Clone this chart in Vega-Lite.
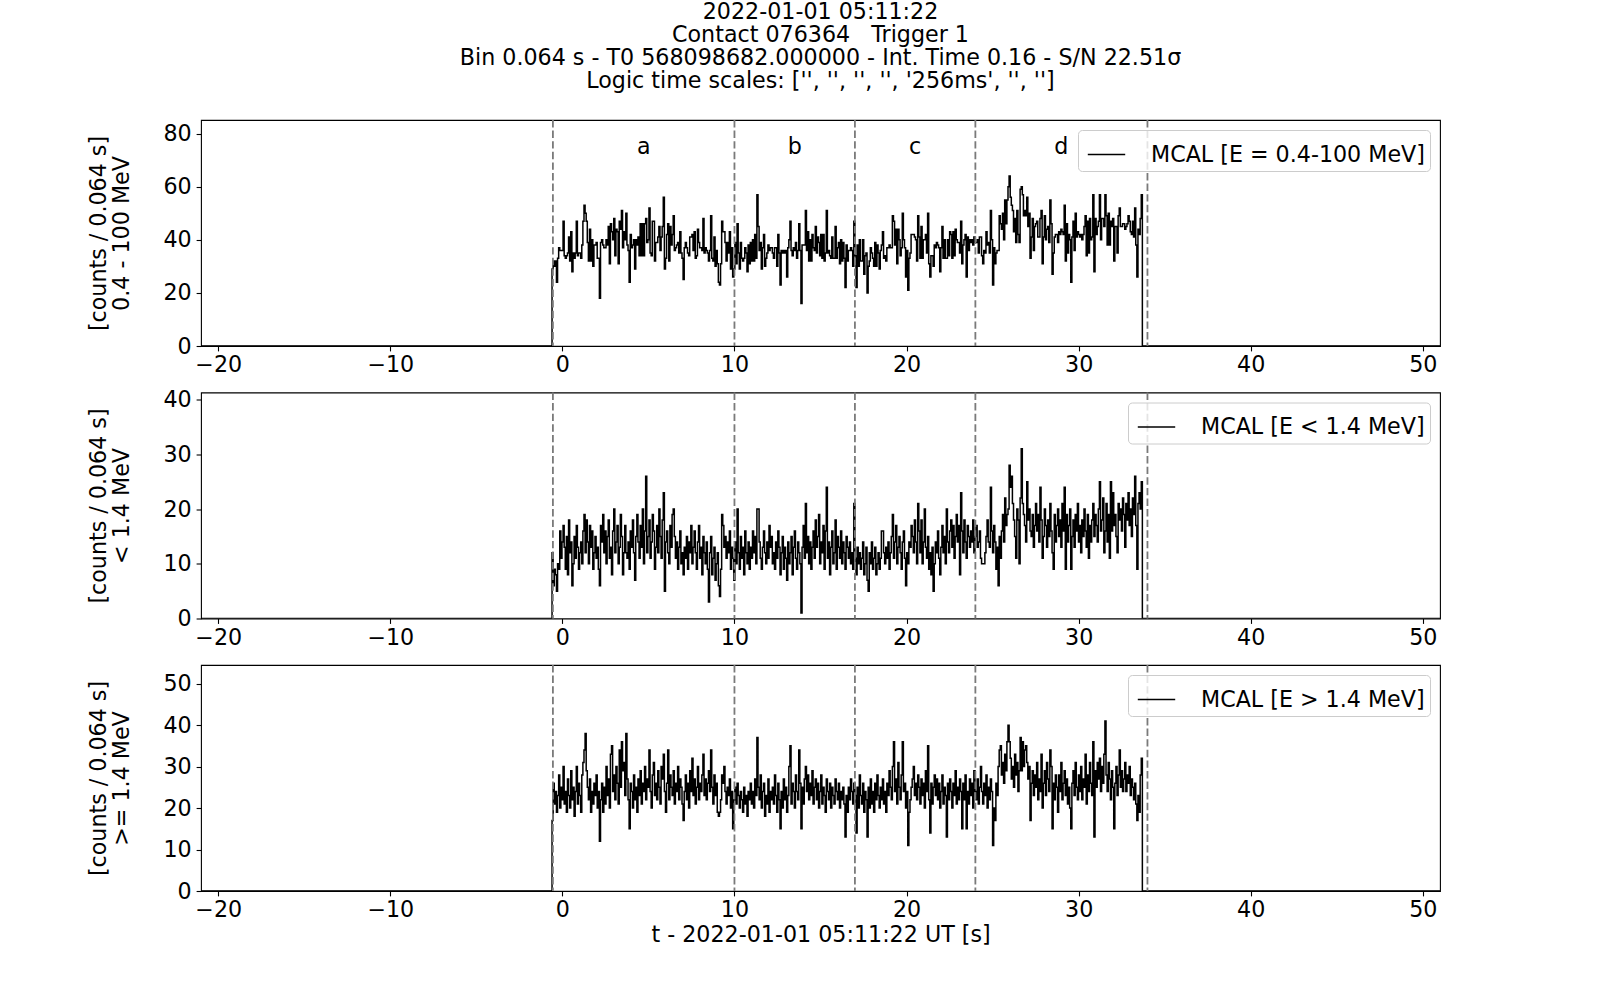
{
"$schema": "https://vega.github.io/schema/vega-lite/v6.json",
"background": "white",
"padding": {"left": 87, "top": 1, "right": 5, "bottom": 5},
"title": {"text": ["2022-01-01 05:11:22", "Contact 076364\u00a0\u00a0\u00a0Trigger 1", "Bin 0.064 s - T0 568098682.000000 - Int. Time 0.16 - S/N 22.51σ", "Logic time scales: ['', '', '', '', '256ms', '', '']"], "anchor": "middle", "frame": "group", "offset": 26},
"bounds": "flush",
"spacing": 46.5,
"datasets": {
"v": [{"x": -0.55}, {"x": 10}, {"x": 17}, {"x": 24}, {"x": 34}],
"lab": [{"x": 4.73, "y": 75, "s": "a"}, {"x": 13.5, "y": 75, "s": "b"}, {"x": 20.5, "y": 75, "s": "c"}, {"x": 29.0, "y": 75, "s": "d"}],
"d": [
{"t":-21,"lo":0,"hi":0,"all":0},
{"t":-0.6,"lo":12,"hi":17,"all":29},{"t":-0.536,"lo":6,"hi":26,"all":32},{"t":-0.472,"lo":9,"hi":21,"all":30},{"t":-0.408,"lo":8,"hi":24,"all":32},{"t":-0.344,"lo":5,"hi":19,"all":24},{"t":-0.28,"lo":10,"hi":23,"all":33},{"t":-0.216,"lo":9,"hi":28,"all":37},{"t":-0.152,"lo":16,"hi":20,"all":36},{"t":-0.088,"lo":11,"hi":25,"all":36},{"t":-0.024,"lo":14,"hi":22,"all":36},
{"t":0.04,"lo":17,"hi":30,"all":47},{"t":0.104,"lo":13,"hi":21,"all":34},{"t":0.168,"lo":9,"hi":24,"all":33},{"t":0.232,"lo":15,"hi":19,"all":34},{"t":0.296,"lo":8,"hi":27,"all":35},{"t":0.36,"lo":18,"hi":23,"all":41},{"t":0.424,"lo":12,"hi":20,"all":32},{"t":0.488,"lo":14,"hi":29,"all":43},{"t":0.552,"lo":6,"hi":22,"all":28},{"t":0.616,"lo":10,"hi":25,"all":35},
{"t":0.68,"lo":15,"hi":18,"all":33},{"t":0.744,"lo":11,"hi":24,"all":35},{"t":0.808,"lo":17,"hi":30,"all":47},{"t":0.872,"lo":13,"hi":21,"all":34},{"t":0.936,"lo":9,"hi":26,"all":35},{"t":1.0,"lo":12,"hi":23,"all":35},{"t":1.064,"lo":14,"hi":19,"all":33},{"t":1.128,"lo":10,"hi":28,"all":38},{"t":1.192,"lo":16,"hi":31,"all":47},{"t":1.256,"lo":19,"hi":34,"all":53},
{"t":1.32,"lo":12,"hi":38,"all":50},{"t":1.384,"lo":18,"hi":29,"all":47},{"t":1.448,"lo":14,"hi":25,"all":39},{"t":1.512,"lo":10,"hi":22,"all":32},{"t":1.576,"lo":17,"hi":27,"all":44},{"t":1.64,"lo":13,"hi":19,"all":32},{"t":1.704,"lo":16,"hi":24,"all":40},{"t":1.768,"lo":9,"hi":21,"all":30},{"t":1.832,"lo":12,"hi":26,"all":38},{"t":1.896,"lo":15,"hi":23,"all":38},
{"t":1.96,"lo":11,"hi":28,"all":39},{"t":2.024,"lo":13,"hi":20,"all":33},{"t":2.088,"lo":9,"hi":24,"all":33},{"t":2.152,"lo":6,"hi":12,"all":18},{"t":2.216,"lo":17,"hi":22,"all":39},{"t":2.28,"lo":14,"hi":26,"all":40},{"t":2.344,"lo":19,"hi":19,"all":38},{"t":2.408,"lo":12,"hi":25,"all":37},{"t":2.472,"lo":16,"hi":21,"all":37},{"t":2.536,"lo":10,"hi":30,"all":40},
{"t":2.6,"lo":15,"hi":23,"all":38},{"t":2.664,"lo":18,"hi":27,"all":45},{"t":2.728,"lo":11,"hi":20,"all":31},{"t":2.792,"lo":13,"hi":33,"all":46},{"t":2.856,"lo":8,"hi":35,"all":43},{"t":2.92,"lo":16,"hi":24,"all":40},{"t":2.984,"lo":20,"hi":28,"all":48},{"t":3.048,"lo":12,"hi":22,"all":34},{"t":3.112,"lo":14,"hi":30,"all":44},{"t":3.176,"lo":17,"hi":26,"all":43},
{"t":3.24,"lo":10,"hi":21,"all":31},{"t":3.304,"lo":13,"hi":34,"all":47},{"t":3.368,"lo":19,"hi":25,"all":44},{"t":3.432,"lo":15,"hi":36,"all":51},{"t":3.496,"lo":8,"hi":29,"all":37},{"t":3.56,"lo":12,"hi":31,"all":43},{"t":3.624,"lo":17,"hi":23,"all":40},{"t":3.688,"lo":12,"hi":38,"all":50},{"t":3.752,"lo":11,"hi":27,"all":38},{"t":3.816,"lo":14,"hi":22,"all":36},
{"t":3.88,"lo":9,"hi":15,"all":24},{"t":3.944,"lo":16,"hi":26,"all":42},{"t":4.008,"lo":13,"hi":24,"all":37},{"t":4.072,"lo":18,"hi":20,"all":38},{"t":4.136,"lo":12,"hi":28,"all":40},{"t":4.2,"lo":7,"hi":22,"all":29},{"t":4.264,"lo":15,"hi":25,"all":40},{"t":4.328,"lo":19,"hi":19,"all":38},{"t":4.392,"lo":14,"hi":27,"all":41},{"t":4.456,"lo":11,"hi":23,"all":34},
{"t":4.52,"lo":17,"hi":29,"all":46},{"t":4.584,"lo":13,"hi":21,"all":34},{"t":4.648,"lo":20,"hi":26,"all":46},{"t":4.712,"lo":10,"hi":24,"all":34},{"t":4.776,"lo":16,"hi":30,"all":46},{"t":4.84,"lo":26,"hi":22,"all":48},{"t":4.904,"lo":12,"hi":27,"all":39},{"t":4.968,"lo":15,"hi":25,"all":40},{"t":5.032,"lo":18,"hi":34,"all":52},{"t":5.096,"lo":11,"hi":24,"all":35},
{"t":5.16,"lo":14,"hi":20,"all":34},{"t":5.224,"lo":19,"hi":28,"all":47},{"t":5.288,"lo":16,"hi":31,"all":47},{"t":5.352,"lo":9,"hi":23,"all":32},{"t":5.416,"lo":13,"hi":26,"all":39},{"t":5.48,"lo":17,"hi":22,"all":39},{"t":5.544,"lo":12,"hi":29,"all":41},{"t":5.608,"lo":20,"hi":25,"all":45},{"t":5.672,"lo":15,"hi":21,"all":36},{"t":5.736,"lo":11,"hi":30,"all":41},
{"t":5.8,"lo":18,"hi":27,"all":45},{"t":5.864,"lo":23,"hi":33,"all":56},{"t":5.928,"lo":5,"hi":24,"all":29},{"t":5.992,"lo":14,"hi":19,"all":33},{"t":6.056,"lo":16,"hi":26,"all":42},{"t":6.12,"lo":12,"hi":34,"all":46},{"t":6.184,"lo":10,"hi":22,"all":32},{"t":6.248,"lo":17,"hi":28,"all":45},{"t":6.312,"lo":13,"hi":25,"all":38},{"t":6.376,"lo":19,"hi":23,"all":42},
{"t":6.44,"lo":20,"hi":29,"all":49},{"t":6.504,"lo":15,"hi":21,"all":36},{"t":6.568,"lo":11,"hi":26,"all":37},{"t":6.632,"lo":14,"hi":24,"all":38},{"t":6.696,"lo":9,"hi":30,"all":39},{"t":6.76,"lo":13,"hi":22,"all":35},{"t":6.824,"lo":16,"hi":27,"all":43},{"t":6.888,"lo":10,"hi":25,"all":35},{"t":6.952,"lo":12,"hi":21,"all":33},{"t":7.016,"lo":8,"hi":17,"all":25},
{"t":7.08,"lo":13,"hi":24,"all":37},{"t":7.144,"lo":11,"hi":28,"all":39},{"t":7.208,"lo":15,"hi":22,"all":37},{"t":7.272,"lo":9,"hi":26,"all":35},{"t":7.336,"lo":14,"hi":20,"all":34},{"t":7.4,"lo":12,"hi":29,"all":41},{"t":7.464,"lo":17,"hi":24,"all":41},{"t":7.528,"lo":10,"hi":32,"all":42},{"t":7.592,"lo":13,"hi":23,"all":36},{"t":7.656,"lo":16,"hi":27,"all":43},
{"t":7.72,"lo":12,"hi":21,"all":33},{"t":7.784,"lo":9,"hi":25,"all":34},{"t":7.848,"lo":14,"hi":30,"all":44},{"t":7.912,"lo":17,"hi":22,"all":39},{"t":7.976,"lo":11,"hi":26,"all":37},{"t":8.04,"lo":13,"hi":24,"all":37},{"t":8.104,"lo":8,"hi":28,"all":36},{"t":8.168,"lo":15,"hi":33,"all":48},{"t":8.232,"lo":12,"hi":23,"all":35},{"t":8.296,"lo":10,"hi":27,"all":37},
{"t":8.36,"lo":14,"hi":22,"all":36},{"t":8.424,"lo":9,"hi":26,"all":35},{"t":8.488,"lo":3,"hi":29,"all":32},{"t":8.552,"lo":12,"hi":24,"all":36},{"t":8.616,"lo":15,"hi":34,"all":49},{"t":8.68,"lo":8,"hi":25,"all":33},{"t":8.744,"lo":11,"hi":21,"all":32},{"t":8.808,"lo":13,"hi":28,"all":41},{"t":8.872,"lo":7,"hi":23,"all":30},{"t":8.936,"lo":10,"hi":26,"all":36},
{"t":9.0,"lo":12,"hi":19,"all":31},{"t":9.064,"lo":6,"hi":18,"all":24},{"t":9.128,"lo":4,"hi":19,"all":23},{"t":9.192,"lo":9,"hi":22,"all":31},{"t":9.256,"lo":19,"hi":28,"all":47},{"t":9.32,"lo":17,"hi":26,"all":43},{"t":9.384,"lo":13,"hi":30,"all":43},{"t":9.448,"lo":15,"hi":24,"all":39},{"t":9.512,"lo":11,"hi":21,"all":32},{"t":9.576,"lo":14,"hi":25,"all":39},
{"t":9.64,"lo":12,"hi":23,"all":35},{"t":9.704,"lo":16,"hi":27,"all":43},{"t":9.768,"lo":9,"hi":20,"all":29},{"t":9.832,"lo":13,"hi":24,"all":37},{"t":9.896,"lo":11,"hi":15,"all":26},{"t":9.96,"lo":7,"hi":22,"all":29},{"t":10.024,"lo":14,"hi":25,"all":39},{"t":10.088,"lo":10,"hi":21,"all":31},{"t":10.152,"lo":20,"hi":26,"all":46},{"t":10.216,"lo":12,"hi":23,"all":35},
{"t":10.28,"lo":9,"hi":20,"all":29},{"t":10.344,"lo":15,"hi":24,"all":39},{"t":10.408,"lo":11,"hi":22,"all":33},{"t":10.472,"lo":13,"hi":19,"all":32},{"t":10.536,"lo":8,"hi":25,"all":33},{"t":10.6,"lo":16,"hi":21,"all":37},{"t":10.664,"lo":12,"hi":23,"all":35},{"t":10.728,"lo":10,"hi":18,"all":28},{"t":10.792,"lo":14,"hi":24,"all":38},{"t":10.856,"lo":9,"hi":22,"all":31},
{"t":10.92,"lo":13,"hi":26,"all":39},{"t":10.984,"lo":11,"hi":21,"all":32},{"t":11.048,"lo":16,"hi":24,"all":40},{"t":11.112,"lo":12,"hi":20,"all":32},{"t":11.176,"lo":15,"hi":27,"all":42},{"t":11.24,"lo":10,"hi":23,"all":33},{"t":11.304,"lo":20,"hi":37,"all":57},{"t":11.368,"lo":20,"hi":25,"all":45},{"t":11.432,"lo":14,"hi":22,"all":36},{"t":11.496,"lo":11,"hi":28,"all":39},
{"t":11.56,"lo":9,"hi":20,"all":29},{"t":11.624,"lo":13,"hi":24,"all":37},{"t":11.688,"lo":16,"hi":26,"all":42},{"t":11.752,"lo":12,"hi":18,"all":30},{"t":11.816,"lo":10,"hi":23,"all":33},{"t":11.88,"lo":14,"hi":21,"all":35},{"t":11.944,"lo":11,"hi":27,"all":38},{"t":12.008,"lo":17,"hi":19,"all":36},{"t":12.072,"lo":13,"hi":24,"all":37},{"t":12.136,"lo":15,"hi":22,"all":37},
{"t":12.2,"lo":10,"hi":25,"all":35},{"t":12.264,"lo":12,"hi":21,"all":33},{"t":12.328,"lo":9,"hi":28,"all":37},{"t":12.392,"lo":14,"hi":23,"all":37},{"t":12.456,"lo":11,"hi":19,"all":30},{"t":12.52,"lo":16,"hi":26,"all":42},{"t":12.584,"lo":13,"hi":22,"all":35},{"t":12.648,"lo":8,"hi":15,"all":23},{"t":12.712,"lo":12,"hi":24,"all":36},{"t":12.776,"lo":15,"hi":20,"all":35},
{"t":12.84,"lo":9,"hi":27,"all":36},{"t":12.904,"lo":13,"hi":22,"all":35},{"t":12.968,"lo":11,"hi":25,"all":36},{"t":13.032,"lo":7,"hi":19,"all":26},{"t":13.096,"lo":14,"hi":23,"all":37},{"t":13.16,"lo":10,"hi":30,"all":40},{"t":13.224,"lo":12,"hi":35,"all":47},{"t":13.288,"lo":15,"hi":21,"all":36},{"t":13.352,"lo":8,"hi":26,"all":34},{"t":13.416,"lo":13,"hi":24,"all":37},
{"t":13.48,"lo":16,"hi":20,"all":36},{"t":13.544,"lo":11,"hi":28,"all":39},{"t":13.608,"lo":9,"hi":24,"all":33},{"t":13.672,"lo":14,"hi":22,"all":36},{"t":13.736,"lo":12,"hi":34,"all":46},{"t":13.8,"lo":10,"hi":26,"all":36},{"t":13.864,"lo":1,"hi":15,"all":16},{"t":13.928,"lo":13,"hi":25,"all":38},{"t":13.992,"lo":17,"hi":21,"all":38},{"t":14.056,"lo":11,"hi":27,"all":38},
{"t":14.12,"lo":21,"hi":30,"all":51},{"t":14.184,"lo":12,"hi":24,"all":36},{"t":14.248,"lo":15,"hi":28,"all":43},{"t":14.312,"lo":10,"hi":22,"all":32},{"t":14.376,"lo":14,"hi":26,"all":40},{"t":14.44,"lo":9,"hi":23,"all":32},{"t":14.504,"lo":13,"hi":29,"all":42},{"t":14.568,"lo":16,"hi":21,"all":37},{"t":14.632,"lo":11,"hi":25,"all":36},{"t":14.696,"lo":18,"hi":27,"all":45},
{"t":14.76,"lo":13,"hi":22,"all":35},{"t":14.824,"lo":15,"hi":26,"all":41},{"t":14.888,"lo":19,"hi":20,"all":39},{"t":14.952,"lo":10,"hi":24,"all":34},{"t":15.016,"lo":14,"hi":28,"all":42},{"t":15.08,"lo":12,"hi":21,"all":33},{"t":15.144,"lo":17,"hi":25,"all":42},{"t":15.208,"lo":9,"hi":23,"all":32},{"t":15.272,"lo":16,"hi":19,"all":35},{"t":15.336,"lo":24,"hi":27,"all":51},
{"t":15.4,"lo":11,"hi":24,"all":35},{"t":15.464,"lo":14,"hi":22,"all":36},{"t":15.528,"lo":8,"hi":26,"all":34},{"t":15.592,"lo":13,"hi":20,"all":33},{"t":15.656,"lo":16,"hi":25,"all":41},{"t":15.72,"lo":10,"hi":23,"all":33},{"t":15.784,"lo":12,"hi":21,"all":33},{"t":15.848,"lo":18,"hi":27,"all":45},{"t":15.912,"lo":9,"hi":24,"all":33},{"t":15.976,"lo":15,"hi":22,"all":37},
{"t":16.04,"lo":13,"hi":26,"all":39},{"t":16.104,"lo":11,"hi":20,"all":31},{"t":16.168,"lo":16,"hi":24,"all":40},{"t":16.232,"lo":10,"hi":22,"all":32},{"t":16.296,"lo":14,"hi":25,"all":39},{"t":16.36,"lo":12,"hi":21,"all":33},{"t":16.424,"lo":9,"hi":13,"all":22},{"t":16.488,"lo":15,"hi":23,"all":38},{"t":16.552,"lo":13,"hi":19,"all":32},{"t":16.616,"lo":11,"hi":25,"all":36},
{"t":16.68,"lo":14,"hi":22,"all":36},{"t":16.744,"lo":10,"hi":27,"all":37},{"t":16.808,"lo":12,"hi":24,"all":36},{"t":16.872,"lo":9,"hi":21,"all":30},{"t":16.936,"lo":21,"hi":26,"all":47},{"t":17.0,"lo":11,"hi":23,"all":34},{"t":17.064,"lo":8,"hi":14,"all":22},{"t":17.128,"lo":13,"hi":25,"all":38},{"t":17.192,"lo":10,"hi":20,"all":30},{"t":17.256,"lo":12,"hi":28,"all":40},
{"t":17.32,"lo":9,"hi":23,"all":32},{"t":17.384,"lo":11,"hi":21,"all":32},{"t":17.448,"lo":14,"hi":26,"all":40},{"t":17.512,"lo":8,"hi":19,"all":27},{"t":17.576,"lo":10,"hi":24,"all":34},{"t":17.64,"lo":13,"hi":22,"all":35},{"t":17.704,"lo":7,"hi":13,"all":20},{"t":17.768,"lo":5,"hi":25,"all":30},{"t":17.832,"lo":12,"hi":20,"all":32},{"t":17.896,"lo":10,"hi":27,"all":37},
{"t":17.96,"lo":14,"hi":21,"all":35},{"t":18.024,"lo":9,"hi":24,"all":33},{"t":18.088,"lo":11,"hi":19,"all":30},{"t":18.152,"lo":13,"hi":26,"all":39},{"t":18.216,"lo":8,"hi":22,"all":30},{"t":18.28,"lo":10,"hi":28,"all":38},{"t":18.344,"lo":12,"hi":23,"all":35},{"t":18.408,"lo":9,"hi":20,"all":29},{"t":18.472,"lo":11,"hi":25,"all":36},{"t":18.536,"lo":16,"hi":22,"all":38},
{"t":18.6,"lo":16,"hi":27,"all":43},{"t":18.664,"lo":12,"hi":21,"all":33},{"t":18.728,"lo":10,"hi":24,"all":34},{"t":18.792,"lo":13,"hi":19,"all":32},{"t":18.856,"lo":11,"hi":26,"all":37},{"t":18.92,"lo":14,"hi":23,"all":37},{"t":18.984,"lo":9,"hi":29,"all":38},{"t":19.048,"lo":12,"hi":25,"all":37},{"t":19.112,"lo":15,"hi":22,"all":37},{"t":19.176,"lo":19,"hi":30,"all":49},
{"t":19.24,"lo":11,"hi":36,"all":47},{"t":19.304,"lo":14,"hi":24,"all":38},{"t":19.368,"lo":17,"hi":27,"all":44},{"t":19.432,"lo":10,"hi":21,"all":31},{"t":19.496,"lo":13,"hi":31,"all":44},{"t":19.56,"lo":15,"hi":25,"all":40},{"t":19.624,"lo":12,"hi":22,"all":34},{"t":19.688,"lo":9,"hi":28,"all":37},{"t":19.752,"lo":14,"hi":36,"all":50},{"t":19.816,"lo":16,"hi":24,"all":40},
{"t":19.88,"lo":11,"hi":26,"all":37},{"t":19.944,"lo":6,"hi":20,"all":26},{"t":20.008,"lo":12,"hi":24,"all":36},{"t":20.072,"lo":10,"hi":11,"all":21},{"t":20.136,"lo":14,"hi":19,"all":33},{"t":20.2,"lo":13,"hi":22,"all":35},{"t":20.264,"lo":17,"hi":25,"all":42},{"t":20.328,"lo":15,"hi":27,"all":42},{"t":20.392,"lo":12,"hi":30,"all":42},{"t":20.456,"lo":18,"hi":23,"all":41},
{"t":20.52,"lo":14,"hi":26,"all":40},{"t":20.584,"lo":10,"hi":22,"all":32},{"t":20.648,"lo":21,"hi":28,"all":49},{"t":20.712,"lo":16,"hi":25,"all":41},{"t":20.776,"lo":12,"hi":21,"all":33},{"t":20.84,"lo":18,"hi":27,"all":45},{"t":20.904,"lo":10,"hi":23,"all":33},{"t":20.968,"lo":14,"hi":26,"all":40},{"t":21.032,"lo":20,"hi":20,"all":40},{"t":21.096,"lo":13,"hi":29,"all":42},
{"t":21.16,"lo":11,"hi":24,"all":35},{"t":21.224,"lo":15,"hi":35,"all":50},{"t":21.288,"lo":9,"hi":22,"all":31},{"t":21.352,"lo":12,"hi":14,"all":26},{"t":21.416,"lo":8,"hi":26,"all":34},{"t":21.48,"lo":13,"hi":21,"all":34},{"t":21.544,"lo":5,"hi":25,"all":30},{"t":21.608,"lo":10,"hi":28,"all":38},{"t":21.672,"lo":14,"hi":23,"all":37},{"t":21.736,"lo":12,"hi":27,"all":39},
{"t":21.8,"lo":16,"hi":22,"all":38},{"t":21.864,"lo":11,"hi":26,"all":37},{"t":21.928,"lo":8,"hi":20,"all":28},{"t":21.992,"lo":13,"hi":24,"all":37},{"t":22.056,"lo":17,"hi":28,"all":45},{"t":22.12,"lo":12,"hi":21,"all":33},{"t":22.184,"lo":15,"hi":25,"all":40},{"t":22.248,"lo":10,"hi":23,"all":33},{"t":22.312,"lo":20,"hi":13,"all":33},{"t":22.376,"lo":14,"hi":26,"all":40},
{"t":22.44,"lo":12,"hi":22,"all":34},{"t":22.504,"lo":16,"hi":27,"all":43},{"t":22.568,"lo":18,"hi":24,"all":42},{"t":22.632,"lo":13,"hi":20,"all":33},{"t":22.696,"lo":17,"hi":26,"all":43},{"t":22.76,"lo":11,"hi":23,"all":34},{"t":22.824,"lo":15,"hi":29,"all":44},{"t":22.888,"lo":19,"hi":21,"all":40},{"t":22.952,"lo":14,"hi":25,"all":39},{"t":23.016,"lo":17,"hi":22,"all":39},
{"t":23.08,"lo":8,"hi":27,"all":35},{"t":23.144,"lo":23,"hi":24,"all":47},{"t":23.208,"lo":16,"hi":15,"all":31},{"t":23.272,"lo":12,"hi":26,"all":38},{"t":23.336,"lo":18,"hi":22,"all":40},{"t":23.4,"lo":14,"hi":28,"all":42},{"t":23.464,"lo":11,"hi":15,"all":26},{"t":23.528,"lo":17,"hi":24,"all":41},{"t":23.592,"lo":15,"hi":21,"all":36},{"t":23.656,"lo":13,"hi":27,"all":40},
{"t":23.72,"lo":16,"hi":23,"all":39},{"t":23.784,"lo":14,"hi":26,"all":40},{"t":23.848,"lo":18,"hi":20,"all":38},{"t":23.912,"lo":12,"hi":29,"all":41},{"t":23.976,"lo":15,"hi":24,"all":39},{"t":24.04,"lo":17,"hi":22,"all":39},{"t":24.104,"lo":13,"hi":27,"all":40},{"t":24.168,"lo":14,"hi":21,"all":35},{"t":24.232,"lo":16,"hi":25,"all":41},{"t":24.296,"lo":11,"hi":30,"all":41},
{"t":24.36,"lo":10,"hi":24,"all":34},{"t":24.424,"lo":10,"hi":21,"all":31},{"t":24.488,"lo":10,"hi":26,"all":36},{"t":24.552,"lo":12,"hi":23,"all":35},{"t":24.616,"lo":15,"hi":28,"all":43},{"t":24.68,"lo":18,"hi":20,"all":38},{"t":24.744,"lo":14,"hi":25,"all":39},{"t":24.808,"lo":13,"hi":22,"all":35},{"t":24.872,"lo":24,"hi":27,"all":51},{"t":24.936,"lo":16,"hi":24,"all":40},
{"t":25.0,"lo":12,"hi":11,"all":23},{"t":25.064,"lo":17,"hi":20,"all":37},{"t":25.128,"lo":14,"hi":17,"all":31},{"t":25.192,"lo":9,"hi":26,"all":35},{"t":25.256,"lo":13,"hi":23,"all":36},{"t":25.32,"lo":6,"hi":30,"all":36},{"t":25.384,"lo":15,"hi":34,"all":49},{"t":25.448,"lo":11,"hi":35,"all":46},{"t":25.512,"lo":16,"hi":28,"all":44},{"t":25.576,"lo":19,"hi":31,"all":50},
{"t":25.64,"lo":14,"hi":26,"all":40},{"t":25.704,"lo":22,"hi":33,"all":55},{"t":25.768,"lo":17,"hi":29,"all":46},{"t":25.832,"lo":19,"hi":36,"all":55},{"t":25.896,"lo":20,"hi":40,"all":60},{"t":25.96,"lo":28,"hi":36,"all":64},{"t":26.024,"lo":24,"hi":32,"all":56},{"t":26.088,"lo":26,"hi":27,"all":53},{"t":26.152,"lo":21,"hi":30,"all":51},{"t":26.216,"lo":18,"hi":25,"all":43},
{"t":26.28,"lo":15,"hi":33,"all":48},{"t":26.344,"lo":11,"hi":28,"all":39},{"t":26.408,"lo":20,"hi":31,"all":51},{"t":26.472,"lo":18,"hi":24,"all":42},{"t":26.536,"lo":10,"hi":29,"all":39},{"t":26.6,"lo":22,"hi":37,"all":59},{"t":26.664,"lo":31,"hi":29,"all":60},{"t":26.728,"lo":21,"hi":36,"all":57},{"t":26.792,"lo":19,"hi":30,"all":49},{"t":26.856,"lo":17,"hi":34,"all":51},
{"t":26.92,"lo":14,"hi":35,"all":49},{"t":26.984,"lo":25,"hi":31,"all":56},{"t":27.048,"lo":18,"hi":27,"all":45},{"t":27.112,"lo":20,"hi":30,"all":50},{"t":27.176,"lo":16,"hi":17,"all":33},{"t":27.24,"lo":15,"hi":26,"all":41},{"t":27.304,"lo":19,"hi":29,"all":48},{"t":27.368,"lo":13,"hi":23,"all":36},{"t":27.432,"lo":17,"hi":28,"all":45},{"t":27.496,"lo":21,"hi":25,"all":46},
{"t":27.56,"lo":16,"hi":31,"all":47},{"t":27.624,"lo":19,"hi":22,"all":41},{"t":27.688,"lo":14,"hi":27,"all":41},{"t":27.752,"lo":24,"hi":24,"all":48},{"t":27.816,"lo":18,"hi":33,"all":51},{"t":27.88,"lo":11,"hi":20,"all":31},{"t":27.944,"lo":15,"hi":26,"all":41},{"t":28.008,"lo":20,"hi":29,"all":49},{"t":28.072,"lo":17,"hi":23,"all":40},{"t":28.136,"lo":13,"hi":31,"all":44},
{"t":28.2,"lo":18,"hi":27,"all":45},{"t":28.264,"lo":15,"hi":24,"all":39},{"t":28.328,"lo":21,"hi":34,"all":55},{"t":28.392,"lo":16,"hi":30,"all":46},{"t":28.456,"lo":12,"hi":15,"all":27},{"t":28.52,"lo":9,"hi":26,"all":35},{"t":28.584,"lo":19,"hi":22,"all":41},{"t":28.648,"lo":14,"hi":28,"all":42},{"t":28.712,"lo":17,"hi":25,"all":42},{"t":28.776,"lo":20,"hi":19,"all":39},
{"t":28.84,"lo":15,"hi":28,"all":43},{"t":28.904,"lo":18,"hi":24,"all":42},{"t":28.968,"lo":13,"hi":31,"all":44},{"t":29.032,"lo":21,"hi":22,"all":43},{"t":29.096,"lo":16,"hi":26,"all":42},{"t":29.16,"lo":24,"hi":29,"all":53},{"t":29.224,"lo":9,"hi":23,"all":32},{"t":29.288,"lo":19,"hi":27,"all":46},{"t":29.352,"lo":14,"hi":21,"all":35},{"t":29.416,"lo":17,"hi":25,"all":42},
{"t":29.48,"lo":20,"hi":20,"all":40},{"t":29.544,"lo":9,"hi":15,"all":24},{"t":29.608,"lo":15,"hi":26,"all":41},{"t":29.672,"lo":18,"hi":29,"all":47},{"t":29.736,"lo":13,"hi":23,"all":36},{"t":29.8,"lo":19,"hi":31,"all":50},{"t":29.864,"lo":16,"hi":25,"all":41},{"t":29.928,"lo":21,"hi":22,"all":43},{"t":29.992,"lo":14,"hi":28,"all":42},{"t":30.056,"lo":17,"hi":24,"all":41},
{"t":30.12,"lo":12,"hi":30,"all":42},{"t":30.184,"lo":18,"hi":22,"all":40},{"t":30.248,"lo":15,"hi":27,"all":42},{"t":30.312,"lo":20,"hi":25,"all":45},{"t":30.376,"lo":16,"hi":33,"all":49},{"t":30.44,"lo":13,"hi":21,"all":34},{"t":30.504,"lo":19,"hi":28,"all":47},{"t":30.568,"lo":11,"hi":24,"all":35},{"t":30.632,"lo":17,"hi":31,"all":48},{"t":30.696,"lo":14,"hi":26,"all":40},
{"t":30.76,"lo":18,"hi":23,"all":41},{"t":30.824,"lo":21,"hi":36,"all":57},{"t":30.888,"lo":15,"hi":13,"all":28},{"t":30.952,"lo":19,"hi":29,"all":48},{"t":31.016,"lo":17,"hi":25,"all":42},{"t":31.08,"lo":14,"hi":31,"all":45},{"t":31.144,"lo":20,"hi":27,"all":47},{"t":31.208,"lo":25,"hi":32,"all":57},{"t":31.272,"lo":16,"hi":24,"all":40},{"t":31.336,"lo":18,"hi":30,"all":48},
{"t":31.4,"lo":22,"hi":26,"all":48},{"t":31.464,"lo":12,"hi":33,"all":45},{"t":31.528,"lo":16,"hi":41,"all":57},{"t":31.592,"lo":21,"hi":28,"all":49},{"t":31.656,"lo":14,"hi":24,"all":38},{"t":31.72,"lo":19,"hi":31,"all":50},{"t":31.784,"lo":11,"hi":27,"all":38},{"t":31.848,"lo":25,"hi":22,"all":47},{"t":31.912,"lo":16,"hi":29,"all":45},{"t":31.976,"lo":23,"hi":25,"all":48},
{"t":32.04,"lo":17,"hi":15,"all":32},{"t":32.104,"lo":19,"hi":26,"all":45},{"t":32.168,"lo":15,"hi":30,"all":45},{"t":32.232,"lo":12,"hi":23,"all":35},{"t":32.296,"lo":21,"hi":28,"all":49},{"t":32.36,"lo":18,"hi":34,"all":52},{"t":32.424,"lo":20,"hi":25,"all":45},{"t":32.488,"lo":16,"hi":29,"all":45},{"t":32.552,"lo":22,"hi":24,"all":46},{"t":32.616,"lo":19,"hi":27,"all":46},
{"t":32.68,"lo":13,"hi":31,"all":44},{"t":32.744,"lo":21,"hi":24,"all":45},{"t":32.808,"lo":18,"hi":28,"all":46},{"t":32.872,"lo":23,"hi":26,"all":49},{"t":32.936,"lo":17,"hi":30,"all":47},{"t":33.0,"lo":20,"hi":23,"all":43},{"t":33.064,"lo":15,"hi":27,"all":42},{"t":33.128,"lo":22,"hi":25,"all":47},{"t":33.192,"lo":19,"hi":22,"all":41},{"t":33.256,"lo":26,"hi":26,"all":52},
{"t":33.32,"lo":17,"hi":21,"all":38},{"t":33.384,"lo":9,"hi":17,"all":26},{"t":33.448,"lo":21,"hi":23,"all":44},{"t":33.512,"lo":23,"hi":19,"all":42},{"t":33.576,"lo":20,"hi":28,"all":48},{"t":33.64,"lo":25,"hi":32,"all":57},
{"t":33.704,"lo":0,"hi":0,"all":0},{"t":51,"lo":0,"hi":0,"all":0}
]
},
"vconcat": [
{
"width": 1239, "height": 226,
"layer": [
{"data": {"name": "d"}, "mark": {"type": "line", "interpolate": "step-after", "strokeWidth": 1.5, "clip": true},
 "encoding": {
  "x": {"field": "t", "type": "quantitative", "scale": {"domain": [-21, 51], "nice": false, "zero": false}, "axis": {"title": null, "values": [-20, -10, 0, 10, 20, 30, 40, 50]}},
  "y": {"field": "all", "type": "quantitative", "scale": {"domain": [0, 85.1], "nice": false}, "axis": {"title": ["[counts / 0.064 s]", "0.4 - 100 MeV"], "values": [0, 20, 40, 60, 80]}},
  "color": {"datum": "MCAL [E = 0.4-100 MeV]", "type": "nominal", "scale": {"range": ["black"]}, "legend": {"title": null}}
 }},
{"data": {"name": "v"}, "mark": {"type": "rule", "color": "#7a7a7a", "strokeDash": [7.4, 3.2], "strokeWidth": 1.8}, "encoding": {"x": {"field": "x", "type": "quantitative"}}},
{"data": {"name": "lab"}, "mark": {"type": "text", "fontSize": 22.2, "font": "DejaVu Sans", "color": "black", "align": "center", "baseline": "middle"}, "encoding": {"x": {"field": "x", "type": "quantitative"}, "y": {"field": "y", "type": "quantitative"}, "text": {"field": "s"}}}
]
},
{
"width": 1239, "height": 226,
"layer": [
{"data": {"name": "d"}, "mark": {"type": "line", "interpolate": "step-after", "strokeWidth": 1.5, "clip": true},
 "encoding": {
  "x": {"field": "t", "type": "quantitative", "scale": {"domain": [-21, 51], "nice": false, "zero": false}, "axis": {"title": null, "values": [-20, -10, 0, 10, 20, 30, 40, 50]}},
  "y": {"field": "lo", "type": "quantitative", "scale": {"domain": [0, 41.3], "nice": false}, "axis": {"title": ["[counts / 0.064 s]", "< 1.4 MeV"], "values": [0, 10, 20, 30, 40]}},
  "color": {"datum": "MCAL [E < 1.4 MeV]", "type": "nominal", "scale": {"range": ["black"]}, "legend": {"title": null}}
 }},
{"data": {"name": "v"}, "mark": {"type": "rule", "color": "#7a7a7a", "strokeDash": [7.4, 3.2], "strokeWidth": 1.8}, "encoding": {"x": {"field": "x", "type": "quantitative"}}}
]
},
{
"width": 1239, "height": 226,
"layer": [
{"data": {"name": "d"}, "mark": {"type": "line", "interpolate": "step-after", "strokeWidth": 1.5, "clip": true},
 "encoding": {
  "x": {"field": "t", "type": "quantitative", "scale": {"domain": [-21, 51], "nice": false, "zero": false}, "axis": {"title": "t - 2022-01-01 05:11:22 UT [s]", "values": [-20, -10, 0, 10, 20, 30, 40, 50]}},
  "y": {"field": "hi", "type": "quantitative", "scale": {"domain": [0, 54.5], "nice": false}, "axis": {"title": ["[counts / 0.064 s]", ">= 1.4 MeV"], "values": [0, 10, 20, 30, 40, 50]}},
  "color": {"datum": "MCAL [E > 1.4 MeV]", "type": "nominal", "scale": {"range": ["black"]}, "legend": {"title": null}}
 }},
{"data": {"name": "v"}, "mark": {"type": "rule", "color": "#7a7a7a", "strokeDash": [7.4, 3.2], "strokeWidth": 1.8}, "encoding": {"x": {"field": "x", "type": "quantitative"}}}
]
}
],
"resolve": {"scale": {"color": "independent"}, "legend": {"color": "independent"}},
"config": {
 "font": "DejaVu Sans",
 "view": {"stroke": "black", "strokeWidth": 1.1},
 "title": {"fontSize": 22.2, "font": "DejaVu Sans", "fontWeight": "normal", "lineHeight": 23, "color": "black"},
 "axis": {"grid": false, "domain": false, "ticks": true, "tickColor": "black", "tickSize": 4.9, "tickWidth": 1.1, "labelFont": "DejaVu Sans", "labelFontSize": 22.2, "labelColor": "black", "labelPadding": 4.9, "labelFlush": false, "labelOverlap": false, "titleFont": "DejaVu Sans", "titleFontSize": 22.2, "titleFontWeight": "normal", "titleColor": "black"},
 "axisY": {"titleLineHeight": 23, "titlePadding": 29},
 "axisX": {"titlePadding": 2, "labelPadding": 3},
 "legend": {"orient": "top-right", "offset": 10, "padding": 5, "strokeColor": "#cccccc", "fillColor": "rgba(255,255,255,0.8)", "cornerRadius": 4, "labelFont": "DejaVu Sans", "labelFontSize": 22.2, "labelColor": "black", "labelLimit": 500, "symbolType": "stroke", "symbolStrokeWidth": 1.4, "symbolSize": 1400, "symbolOffset": 4, "symbolStrokeColor": "black", "symbolOpacity": 1, "labelOffset": 25}
}
}
